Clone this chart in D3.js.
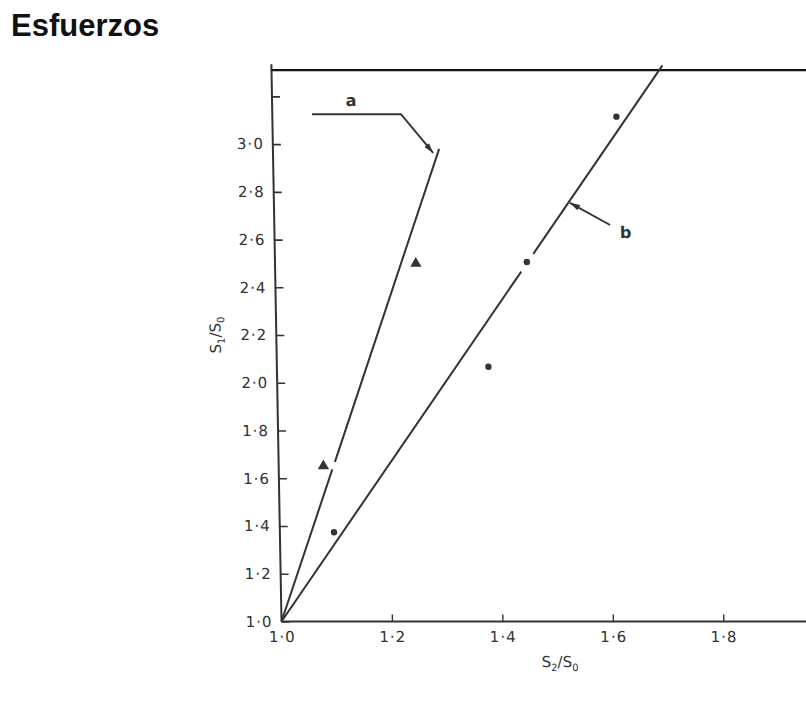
<!DOCTYPE html>
<html>
<head>
<meta charset="utf-8">
<script src="https://cdn.jsdelivr.net/npm/d3@7"></script>
<style>
  body { margin: 0; background: #fff; }
  svg { display: block; }
</style>
</head>
<body>
<svg id="chart" width="806" height="709"></svg>
<script>
// Axis ticks (S2/S0 horizontally, S1/S0 vertically)
const xTicks = [1.0, 1.2, 1.4, 1.6, 1.8];
const yTicks = [1.0, 1.2, 1.4, 1.6, 1.8, 2.0, 2.2, 2.4, 2.6, 2.8, 3.0, 3.2];
const yLabelled = [1.0, 1.2, 1.4, 1.6, 1.8, 2.0, 2.2, 2.4, 2.6, 2.8, 3.0];

// Measured points
const triangles = [
  { s2: 1.081, s1: 1.651 },
  { s2: 1.255, s1: 2.500 }
];
const circles = [
  { s2: 1.098, s1: 1.374 },
  { s2: 1.383, s1: 2.067 },
  { s2: 1.456, s1: 2.506 },
  { s2: 1.623, s1: 3.115 }
];

// Fitted lines a and b, each drawn as pieces broken beside a marker
const lineA = [
  [[1.000, 1.000], [1.097, 1.637]],
  [[1.102, 1.669], [1.301, 2.980]]
];
const lineB = [
  [[1.000, 1.000], [1.4456, 2.466]],
  [[1.468, 2.540], [1.708, 3.330]]
];

// Leaders pointing at the lines, and their letters
const leaderA = [[1.072, 3.125], [1.233, 3.125], [1.290, 2.963]];
const leaderB = [[1.608, 2.661], [1.536, 2.754]];
const lineLabels = [
  { text: "a", s2: 1.143, s1: 3.185 },
  { text: "b", s2: 1.636, s1: 2.629 }
];

const svg = d3.select("#chart");
const ink = "#333";

svg.append("text")
  .attr("x", 11).attr("y", 36)
  .attr("font-family", "Liberation Sans, Arial, sans-serif")
  .attr("font-weight", "bold")
  .attr("font-size", 31)
  .attr("fill", "#111")
  .text("Esfuerzos");

svg.append("defs").append("marker")
  .attr("id", "arrow")
  .attr("viewBox", "0 0 10 6")
  .attr("refX", 10).attr("refY", 3)
  .attr("markerWidth", 11).attr("markerHeight", 6)
  .attr("markerUnits", "userSpaceOnUse")
  .attr("orient", "auto")
  .append("path")
  .attr("d", "M0,0 L10,3 L0,6 Z")
  .attr("fill", ink);

// Plot group, origin at the (1.0, 1.0) corner; slight skew as on the drawing sheet
const g = svg.append("g")
  .attr("transform", "translate(281.5,621.5) skewX(1.04)");

const x = d3.scaleLinear().domain([1, 2]).range([0, 552.3]);
const y = d3.scaleLinear().domain([1, 3]).range([0, -477.4]);

const fmt = v => d3.format(".1f")(v).replace(".", "\u00b7");

// Y axis
const yAxis = d3.axisLeft(y)
  .tickValues(yTicks)
  .tickSizeInner(-8).tickSizeOuter(0).tickPadding(9)
  .tickFormat(v => yLabelled.includes(v) ? fmt(v) : "");
const gy = g.append("g").call(yAxis);
gy.select(".domain").remove();
gy.selectAll(".tick line").attr("stroke", ink).attr("stroke-width", 1.6);
gy.selectAll(".tick text")
  .attr("font-family", "DejaVu Sans, sans-serif")
  .attr("font-size", 15)
  .attr("letter-spacing", 1)
  .attr("fill", "#333");

// X axis
const xAxis = d3.axisBottom(x)
  .tickValues(xTicks)
  .tickSizeInner(-7).tickSizeOuter(0).tickPadding(10)
  .tickFormat(fmt);
const gx = g.append("g").call(xAxis);
gx.select(".domain").remove();
gx.selectAll(".tick line").attr("stroke", ink).attr("stroke-width", 1.4);
gx.selectAll(".tick text")
  .attr("font-family", "DejaVu Sans, sans-serif")
  .attr("font-size", 15)
  .attr("letter-spacing", 1)
  .attr("fill", "#333");

// Axis lines and top border
g.append("line")
  .attr("x1", x(1)).attr("y1", y(1))
  .attr("x2", x(1)).attr("y2", y(3.335))
  .attr("stroke", ink).attr("stroke-width", 2);
g.append("line")
  .attr("x1", x(1)).attr("y1", y(1))
  .attr("x2", x(2.0)).attr("y2", y(1))
  .attr("stroke", ink).attr("stroke-width", 2.2);
g.append("line")
  .attr("x1", x(1)).attr("y1", y(3.31))
  .attr("x2", x(2.0)).attr("y2", y(3.31))
  .attr("stroke", "#111").attr("stroke-width", 2.4);

// Lines a and b
const seg = d3.line().x(d => x(d[0])).y(d => y(d[1]));
g.selectAll(".fit")
  .data(lineA.concat(lineB))
  .join("path")
  .attr("class", "fit")
  .attr("d", seg)
  .attr("fill", "none")
  .attr("stroke", ink)
  .attr("stroke-width", 2);

// Leaders with arrowheads
g.selectAll(".leader")
  .data([leaderA, leaderB])
  .join("path")
  .attr("class", "leader")
  .attr("d", seg)
  .attr("fill", "none")
  .attr("stroke", ink)
  .attr("stroke-width", 1.9)
  .attr("marker-end", "url(#arrow)");

g.selectAll(".lbl")
  .data(lineLabels)
  .join("text")
  .attr("class", "lbl")
  .attr("x", d => x(d.s2))
  .attr("y", d => y(d.s1))
  .attr("dy", "0.35em")
  .attr("text-anchor", "middle")
  .attr("font-family", "DejaVu Sans, sans-serif")
  .attr("font-weight", "bold")
  .attr("font-size", 16)
  .attr("fill", "#333")
  .text(d => d.text);

// Markers
g.selectAll(".tri")
  .data(triangles)
  .join("path")
  .attr("class", "tri")
  .attr("transform", d => `translate(${x(d.s2)},${y(d.s1)})`)
  .attr("d", d3.symbol(d3.symbolTriangle, 55))
  .attr("fill", ink);
g.selectAll(".dot")
  .data(circles)
  .join("circle")
  .attr("class", "dot")
  .attr("cx", d => x(d.s2))
  .attr("cy", d => y(d.s1))
  .attr("r", 3.2)
  .attr("fill", ink);

// Axis titles
const yTitle = g.append("text")
  .attr("transform", `translate(-61,${y(2.2)}) rotate(-90)`)
  .attr("text-anchor", "middle")
  .attr("dy", "0.35em")
  .attr("font-family", "DejaVu Sans, sans-serif")
  .attr("font-size", 15)
  .attr("fill", "#333");
yTitle.append("tspan").text("S");
yTitle.append("tspan").attr("font-size", 10).attr("dy", 4).text("1");
yTitle.append("tspan").attr("dy", -4).text("/S");
yTitle.append("tspan").attr("font-size", 10).attr("dy", 4).text("0");

const xTitle = g.append("text")
  .attr("x", x(1.503)).attr("y", 46)
  .attr("text-anchor", "middle")
  .attr("font-family", "DejaVu Sans, sans-serif")
  .attr("font-size", 15)
  .attr("fill", "#333");
xTitle.append("tspan").text("S");
xTitle.append("tspan").attr("font-size", 10).attr("dy", 4).text("2");
xTitle.append("tspan").attr("dy", -4).text("/S");
xTitle.append("tspan").attr("font-size", 10).attr("dy", 4).text("0");
</script>
</body>
</html>
